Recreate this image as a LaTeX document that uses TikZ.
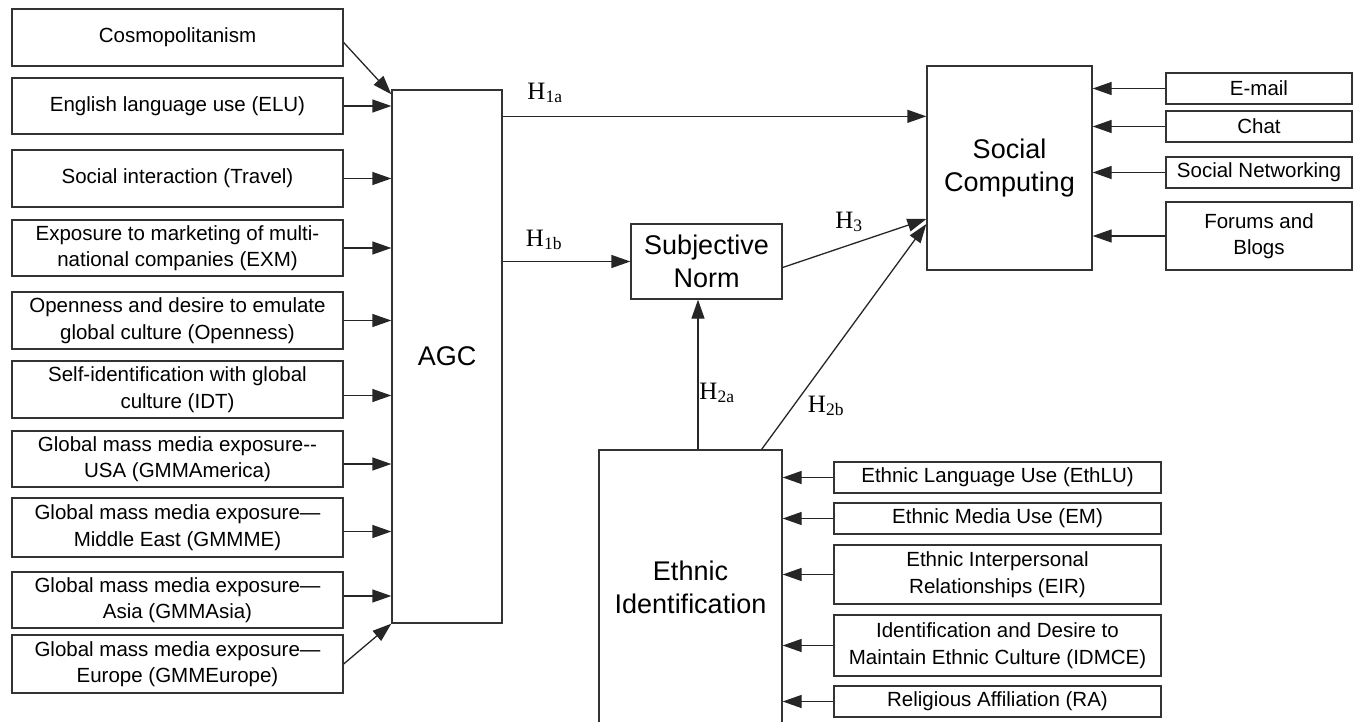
\documentclass[tikz,border=0pt]{standalone}
\usepackage{fontspec}
\setmainfont{Liberation Sans}
\newfontfamily\hfont{Liberation Serif}
\usetikzlibrary{arrows.meta}

\begin{document}
\begin{tikzpicture}[x=1pt,y=-1pt,
    box/.style={draw=black!80,line width=1.3pt,fill=white,inner sep=0pt,align=center,
      font=\fontsize{20.5}{26.5}\selectfont},
    bigbox/.style={box,font=\fontsize{27}{33}\selectfont},
    lbox/.style={box,minimum width=331pt,minimum height=57pt},
    rbox/.style={box,minimum width=186pt,minimum height=31pt},
    ebox/.style={box,minimum width=327pt,minimum height=31pt},
    hlab/.style={inner sep=0pt,font=\hfont\fontsize{25}{25}\selectfont},
    arr/.style={draw=black!85,line width=1.3pt,-{Triangle[length=19pt,width=13pt]}}]
      \useasboundingbox (0,0) rectangle (1355,722);
      \draw
        (177.5,37.5) node[lbox] (cos){Cosmopolitanism}
        (177.5,106) node[lbox,minimum height=56pt] (elu){English language use (ELU)}
        (177.5,178.5) node[lbox] (trv){Social interaction (Travel)}
        (177.5,248) node[lbox,minimum height=56pt] (exm){Exposure to marketing of multi-\\national companies (EXM)}
        (177.5,320.5) node[lbox] (opn){Openness and desire to emulate\\global culture (Openness)}
        (177.5,389.5) node[lbox] (idt){Self-identification with global\\culture (IDT)}
        (177.5,459) node[lbox,minimum height=56pt] (gusa){Global mass media exposure-{}-\\USA (GMMAmerica)}
        (177.5,527.5) node[lbox,minimum height=59pt] (gme){Global mass media exposure—\\Middle East (GMMME)}
        (177.5,600) node[lbox,minimum height=56pt] (gasia){Global mass media exposure—\\Asia (GMMAsia)}
        (177.5,664) node[lbox,minimum height=58pt] (geu){Global mass media exposure—\\Europe (GMMEurope)};
      \draw
        (447,356.5) node[bigbox,minimum width=110pt,minimum height=533pt] (agc){AGC}
        (706.5,261.5) node[bigbox,minimum width=151pt,minimum height=75pt] (subj){Subjective\\Norm}
        (1009.5,168) node[bigbox,minimum width=165pt,minimum height=204pt] (sc){Social\\Computing}
        (690.5,587) node[bigbox,minimum width=183pt,minimum height=274pt] (ei){Ethnic\\Identification};
      \draw
        (1259,88.5) node[rbox] (email){E-mail}
        (1259,126.5) node[rbox] (chat){Chat}
        (1259,172.5) node[rbox] (snet){Social Networking}
        (1259,236) node[rbox,minimum height=68pt] (forum){Forums and\\Blogs};
      \draw
        (997.5,477.5) node[ebox] (ethlu){Ethnic Language Use (EthLU)}
        (997.5,518.5) node[ebox] (em){Ethnic Media Use (EM)}
        (997.5,574.5) node[ebox,minimum height=59pt] (eir){Ethnic Interpersonal\\Relationships (EIR)}
        (997.5,645.5) node[ebox,minimum height=61pt] (idmce){Identification and Desire to\\Maintain Ethnic Culture (IDMCE)}
        (997.5,701.5) node[ebox] (ra){Religious Affiliation (RA)};
      \node[hlab] (h1a) at (545,93) {H\textsubscript{1a}};
      \node[hlab] (h1b) at (544,240) {H\textsubscript{1b}};
      \node[hlab] (h3) at (849,222) {H\textsubscript{3}};
      \node[hlab] (h2a) at (717,393) {H\textsubscript{2a}};
      \node[hlab] (h2b) at (826,406) {H\textsubscript{2b}};
      \begin{scope}[arr]
        \draw ([yshift=-5pt]cos.east) to ([yshift=-5pt]agc.north west);
        \draw (elu.east) to (elu.east -| agc.west);
        \draw (trv.east) to (trv.east -| agc.west);
        \draw (exm.east) to (exm.east -| agc.west);
        \draw (opn.east) to (opn.east -| agc.west);
        \draw ([yshift=-6pt]idt.east) to ([yshift=-6pt]idt.east -| agc.west);
        \draw ([yshift=-5pt]gusa.east) to ([yshift=-5pt]gusa.east -| agc.west);
        \draw ([yshift=-4pt]gme.east) to ([yshift=-4pt]gme.east -| agc.west);
        \draw ([yshift=4pt]gasia.east) to ([yshift=4pt]gasia.east -| agc.west);
        \draw (geu.east) to (agc.south west);
        \draw ([yshift=-27pt]agc.north east) to ([yshift=-27pt]agc.north east -| sc.west);
        \draw (subj.west -| agc.east) to (subj.west);
        \draw ([yshift=-6pt]subj.east) to ([yshift=-51pt]sc.west);
        \draw ([xshift=-21pt]ei.north east) to ([yshift=-56pt]sc.west);
        \draw ([xshift=7.5pt]ei.north) to ([xshift=7.5pt]ei.north |- subj.south);
        \draw (email.west) to (email.west -| sc.east);
        \draw (chat.west) to (chat.west -| sc.east);
        \draw (snet.west) to (snet.west -| sc.east);
        \draw (forum.west) to (forum.west -| sc.east);
        \draw (ethlu.west) to (ethlu.west -| ei.east);
        \draw (em.west) to (em.west -| ei.east);
        \draw (eir.west) to (eir.west -| ei.east);
        \draw (idmce.west) to (idmce.west -| ei.east);
        \draw (ra.west) to (ra.west -| ei.east);
      \end{scope}
    \end{tikzpicture}
\end{document}
